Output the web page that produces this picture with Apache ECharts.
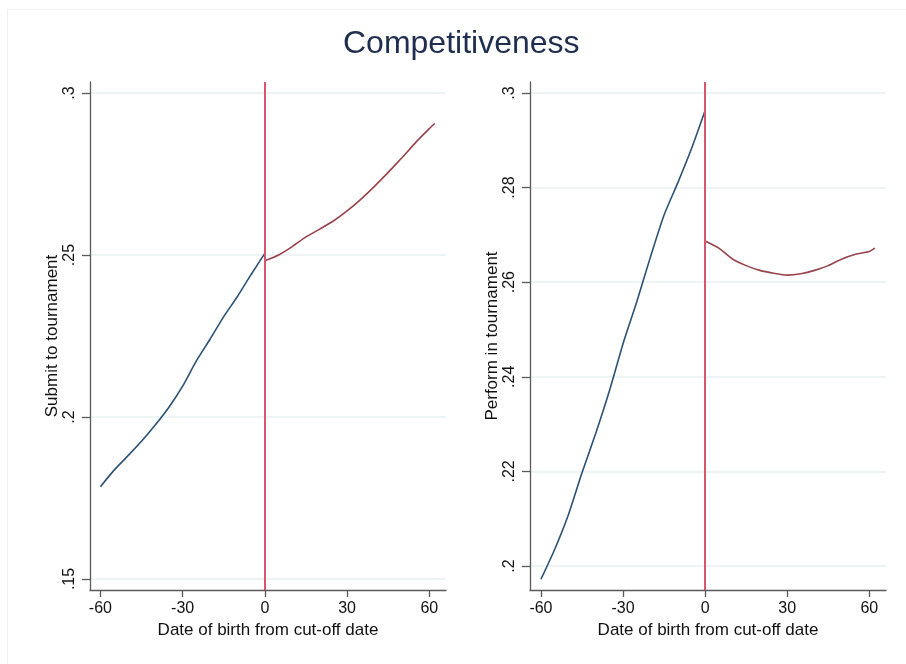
<!DOCTYPE html>
<html>
<head>
<meta charset="utf-8">
<script src="https://cdn.jsdelivr.net/npm/echarts@6/dist/echarts.min.js"></script>
<style>
  html, body { margin: 0; padding: 0; background: #ffffff; }
  #chart { width: 906px; height: 664px; }
</style>
</head>
<body>
<div id="chart"></div>
<script>
// Days of birth relative to the cut-off date
const daysBefore = [-60, -55, -50, -45, -40, -35, -30, -25, -20, -15, -10, -5, 0];
const daysAfter = [0, 5, 10, 15, 20, 25, 30, 35, 40, 45, 50, 55, 60, 62];

// Share submitting to a tournament (smoothed fit on each side)
const submitBefore = [0.1785, 0.1836, 0.1880, 0.1925, 0.1975, 0.2030, 0.2095, 0.2173, 0.2240, 0.2310, 0.2372, 0.2440, 0.2505];
const submitAfter = [0.2482, 0.2500, 0.2526, 0.2556, 0.2580, 0.2605, 0.2636, 0.2672, 0.2712, 0.2755, 0.2800, 0.2847, 0.2890, 0.2906];

// Share performing in a tournament (smoothed fit on each side)
const performBefore = [0.1972, 0.2035, 0.2108, 0.2197, 0.2280, 0.2370, 0.2470, 0.2558, 0.2653, 0.2742, 0.2810, 0.2882, 0.2963];
const performAfter = [0.2687, 0.2672, 0.2649, 0.2635, 0.2625, 0.2619, 0.2615, 0.2618, 0.2625, 0.2635, 0.2649, 0.2659, 0.2665, 0.2672];

// Tick labels
const xTicks = [-60, -30, 0, 30, 60];
const submitTicks = [0.15, 0.2, 0.25, 0.3];
const performTicks = [0.2, 0.22, 0.24, 0.26, 0.28, 0.3];

const cutoff = 0;

const FONT = 'Liberation Sans, Arial, sans-serif';
const AXIS_GRAY = '#5a5a5a';
const GRID_COLOR = '#e9f1f2';
const BLUE = '#2b5275';
const MAROON = '#98424a';
const CUT_RED = '#d9546e';

const pairs = (xs, ys) => xs.map((x, i) => [x, ys[i]]);
const dropZero = v => String(v).replace(/^0(?=\.)/, '');

function makeX(gridIndex, min, max) {
  return {
    type: 'value', gridIndex, min, max,
    name: 'Date of birth from cut-off date',
    nameLocation: 'middle', nameGap: 28,
    nameTextStyle: { color: '#111', fontSize: 17, fontFamily: FONT },
    axisLine: { show: true, onZero: false, lineStyle: { color: AXIS_GRAY, width: 1.3 } },
    axisTick: { show: true, length: 7, customValues: xTicks, lineStyle: { color: AXIS_GRAY, width: 1.3 } },
    axisLabel: { show: true, customValues: xTicks, margin: 11, color: '#111', fontSize: 16, fontFamily: FONT },
    splitLine: { show: false }
  };
}

function makeY(gridIndex, min, max, ticks, name) {
  return {
    type: 'value', gridIndex, min, max,
    name, nameLocation: 'middle', nameGap: 29,
    nameTextStyle: { color: '#111', fontSize: 17, fontFamily: FONT },
    axisLine: { show: true, onZero: false, lineStyle: { color: AXIS_GRAY, width: 1.3 } },
    axisTick: { show: true, length: 8, customValues: ticks, lineStyle: { color: AXIS_GRAY, width: 1.3 } },
    axisLabel: { show: true, customValues: ticks, rotate: 90, margin: 12, color: '#111', fontSize: 16, fontFamily: FONT, formatter: dropZero },
    splitLine: { show: true, lineStyle: { color: GRID_COLOR, width: 1.5 } }
  };
}

function lineSeries(xi, yi, xs, ys, color, withCut) {
  const s = {
    type: 'line', xAxisIndex: xi, yAxisIndex: yi,
    data: pairs(xs, ys),
    showSymbol: false, smooth: 0.2,
    lineStyle: { color, width: 1.6 },
    z: 3, silent: true, animation: false
  };
  if (withCut) {
    s.markLine = {
      silent: true, symbol: 'none', animation: false,
      label: { show: false },
      lineStyle: { color: CUT_RED, width: 2, type: 'solid' },
      data: [{ xAxis: cutoff }]
    };
  }
  return s;
}

const chart = echarts.init(document.getElementById('chart'), null, { renderer: 'canvas' });
chart.setOption({
  backgroundColor: '#ffffff',
  animation: false,
  title: {
    text: 'Competitiveness',
    left: 343, top: 28, padding: 0,
    textStyle: { color: '#1f2d4e', fontSize: 32, fontWeight: 'normal', fontFamily: FONT }
  },
  graphic: [{
    type: 'rect', silent: true, z: -1,
    shape: { x: 7.5, y: 9.5, width: 920, height: 700 },
    style: { fill: 'none', stroke: '#f1f1f1', lineWidth: 1 }
  }],
  grid: [
    { left: 90, top: 82, width: 356, height: 508 },
    { left: 530, top: 82, width: 356, height: 508 }
  ],
  xAxis: [makeX(0, -63.8, 66.1), makeX(1, -64.0, 66.1)],
  yAxis: [
    makeY(0, 0.1466, 0.3034, submitTicks, 'Submit to tournament'),
    makeY(1, 0.19493, 0.30232, performTicks, 'Perform in tournament')
  ],
  series: [
    lineSeries(0, 0, daysBefore, submitBefore, BLUE, true),
    lineSeries(0, 0, daysAfter, submitAfter, MAROON, false),
    lineSeries(1, 1, daysBefore, performBefore, BLUE, true),
    lineSeries(1, 1, daysAfter, performAfter, MAROON, false)
  ]
});
</script>
</body>
</html>
